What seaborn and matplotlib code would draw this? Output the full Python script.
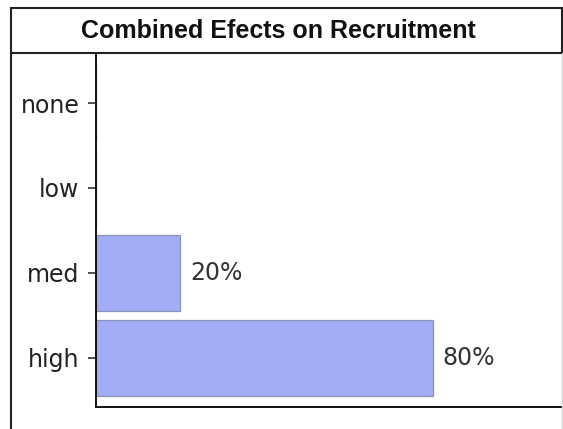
import seaborn as sns
import matplotlib.pyplot as plt
import pandas as pd
from matplotlib.patches import Rectangle
from matplotlib.lines import Line2D

# data
levels = ['none', 'low', 'med', 'high']
percent = [0, 0, 20, 80]
title = 'Combined Efects on Recruitment'

df = pd.DataFrame({'level': levels, 'percent': percent})

sns.set_style('white')
plt.rcParams['font.family'] = ['DejaVu Sans']

W, H = 563, 429
fig = plt.figure(figsize=(W / 100, H / 100), dpi=100)
ax = fig.add_axes([96 / W, 1 - 407 / H, (W - 96) / W, (407 - 53) / H])

sns.barplot(ax=ax, data=df, x='percent', y='level', orient='h', width=0.9,
            color='#a3adf6', saturation=1, edgecolor='#8a92b8', linewidth=0.9)

labels = ['' if v == 0 else '%d%%' % v for v in percent]
ax.bar_label(ax.containers[0], labels=labels, padding=7, fontsize=17, color='#333333')

ax.set_xlim(0, 111)
ax.set_ylim(3.58, -0.59)
ax.set_xlabel('')
ax.set_ylabel('')
ax.set_xticks([])
ax.tick_params(axis='y', left=True, length=6, width=1.2, color='#333333',
               labelsize=17, labelcolor='#222222', pad=6)
for s in ['top', 'right']:
    ax.spines[s].set_visible(False)
for s in ['left', 'bottom']:
    ax.spines[s].set_color('#111111')
    ax.spines[s].set_linewidth(1.4)

# title box and outer frame
fig.add_artist(Rectangle((11 / W, 1 - 53 / H), (562 - 11) / W, 45 / H,
                         transform=fig.transFigure, fill=False,
                         edgecolor='#222222', linewidth=1.5))
fig.add_artist(Line2D([11 / W, 11 / W], [0, 1 - 53 / H], transform=fig.transFigure,
                      color='#222222', linewidth=1.5))
fig.add_artist(Line2D([562 / W, 562 / W], [0, 1 - 53 / H], transform=fig.transFigure,
                      color='#d0d0d0', linewidth=1.0))
fig.text(278 / W, 1 - 31 / H, title, ha='center', va='center',
         fontsize=18, fontweight='bold', family=['Liberation Sans'], color='#111111')

fig.savefig('out.png', dpi=100)
